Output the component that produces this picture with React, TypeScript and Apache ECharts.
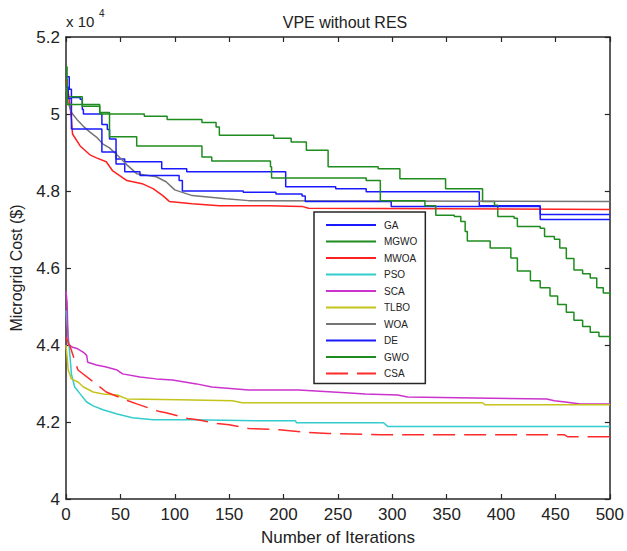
import React, { useEffect, useRef } from "react";
import * as echarts from "echarts";

// Microgrid cost in units of 10^4 $, as [iteration, cost] pairs
const GA: [number, number][] = [
  [0, 5.097], [3, 5.064], [5, 5.043], [13, 5.038], [15, 5.012], [16, 5.0], [33, 4.973], [38, 4.96],
  [40, 4.935], [46, 4.883], [54, 4.876], [88, 4.858], [111, 4.85], [202, 4.811], [248, 4.806],
  [276, 4.798], [380, 4.762], [436, 4.739], [500, 4.739],
];
const MGWO: [number, number][] = [
  [0, 5.123], [1, 5.045], [15, 5.02], [31, 5.004], [40, 5.0], [72, 4.994], [93, 4.986], [125, 4.978],
  [138, 4.966], [141, 4.945], [191, 4.937], [207, 4.927], [221, 4.906], [241, 4.863], [287, 4.858],
  [307, 4.832], [349, 4.806], [383, 4.773], [394, 4.763], [397, 4.734], [412, 4.729], [415, 4.708],
  [436, 4.703], [440, 4.682], [449, 4.675], [454, 4.652], [460, 4.625], [467, 4.595], [475, 4.585],
  [482, 4.574], [488, 4.549], [494, 4.535], [500, 4.528],
];
const MWOA: [number, number][] = [
  [0, 5.09], [3, 5.04], [5, 4.986], [6, 4.948], [13, 4.917], [22, 4.894], [28, 4.886], [37, 4.876],
  [43, 4.852], [56, 4.827], [70, 4.819], [80, 4.806], [89, 4.788], [95, 4.773], [116, 4.767],
  [141, 4.762], [186, 4.762], [217, 4.76], [223, 4.755], [500, 4.752],
];
const PSO: [number, number][] = [
  [0, 4.49], [4, 4.36], [5, 4.324], [8, 4.291], [13, 4.273], [19, 4.252], [25, 4.242], [34, 4.232],
  [47, 4.221], [61, 4.211], [80, 4.206], [116, 4.206], [177, 4.203], [211, 4.203], [212, 4.198],
  [292, 4.198], [296, 4.188], [500, 4.188],
];
const SCA: [number, number][] = [
  [0, 4.54], [1, 4.51], [2, 4.402], [6, 4.394], [10, 4.391], [16, 4.381], [19, 4.373], [20, 4.355],
  [28, 4.348], [37, 4.343], [47, 4.335], [52, 4.325], [68, 4.317], [83, 4.312], [98, 4.309],
  [120, 4.299], [134, 4.291], [168, 4.283], [214, 4.283], [257, 4.276], [275, 4.273], [305, 4.27],
  [314, 4.265], [360, 4.263], [442, 4.26], [449, 4.255], [459, 4.252], [473, 4.247], [500, 4.247],
];
const TLBO: [number, number][] = [
  [0, 4.4], [1, 4.37], [2, 4.335], [5, 4.312], [11, 4.304], [16, 4.291], [25, 4.278], [34, 4.273],
  [47, 4.27], [56, 4.26], [104, 4.258], [153, 4.255], [162, 4.25], [383, 4.25], [385, 4.245],
  [500, 4.245],
];
const WOA: [number, number][] = [
  [0, 5.07], [2, 5.03], [5, 5.004], [10, 4.986], [16, 4.968], [22, 4.953], [28, 4.94], [34, 4.922],
  [40, 4.912], [48, 4.891], [56, 4.868], [65, 4.845], [83, 4.837], [92, 4.824], [100, 4.803],
  [116, 4.788], [147, 4.78], [168, 4.775], [500, 4.773],
];
const DE: [number, number][] = [
  [0, 5.07], [2, 5.04], [5, 4.961], [33, 4.901], [46, 4.87], [54, 4.85], [68, 4.84], [104, 4.827],
  [107, 4.8], [163, 4.797], [193, 4.792], [217, 4.787], [220, 4.773], [299, 4.76], [436, 4.726],
  [500, 4.726],
];
const GWO: [number, number][] = [
  [0, 5.09], [1, 5.025], [31, 5.0], [40, 4.941], [65, 4.917], [125, 4.888], [134, 4.878],
  [188, 4.863], [189, 4.834], [276, 4.827], [289, 4.775], [330, 4.762], [340, 4.737], [357, 4.734],
  [363, 4.721], [367, 4.695], [369, 4.67], [390, 4.652], [409, 4.626], [415, 4.592], [427, 4.567],
  [436, 4.549], [445, 4.527], [452, 4.505], [460, 4.485], [467, 4.464], [475, 4.448], [482, 4.433],
  [490, 4.422], [500, 4.412],
];
const CSA: [number, number][] = [
  [0, 4.42], [4, 4.394], [8, 4.36], [11, 4.335], [29, 4.296], [37, 4.278], [57, 4.255], [65, 4.247],
  [86, 4.227], [92, 4.224], [112, 4.209], [121, 4.206], [139, 4.196], [150, 4.193], [168, 4.183],
  [196, 4.18], [223, 4.173], [241, 4.17], [289, 4.167], [458, 4.167], [461, 4.162], [500, 4.162],
];

const seriesNames = ["GA", "MGWO", "MWOA", "PSO", "SCA", "TLBO", "WOA", "DE", "GWO", "CSA"];
const seriesData = [GA, MGWO, MWOA, PSO, SCA, TLBO, WOA, DE, GWO, CSA];
const xTickStep = 50;
const yTickStep = 0.2;

const colors = ["#1a1aff", "#1e8c1e", "#ff2020", "#33cccc", "#cc33cc", "#c4c41c", "#757575", "#1a1aff", "#1e8c1e", "#ff2a2a"];
const stepped = [true, true, false, false, false, false, false, true, true, false];

const FONT = 'Arial, "Liberation Sans", sans-serif';
const AXIS_COLOR = "#262626";

export default function App() {
  const ref = useRef<HTMLDivElement>(null);
  useEffect(() => {
    if (!ref.current) return;
    const chart = echarts.init(ref.current, undefined, { renderer: "svg" });
    const axisCommon = {
      axisLine: { show: true, onZero: false, lineStyle: { color: AXIS_COLOR, width: 1.5 } },
      axisTick: { show: true, inside: true, length: 5, lineStyle: { color: AXIS_COLOR, width: 1.2 } },
      splitLine: { show: false },
    };
    chart.setOption({
      animation: false,
      backgroundColor: "#ffffff",
      textStyle: { fontFamily: FONT },
      title: {
        text: "VPE without RES",
        left: 340,
        top: 9,
        textAlign: "center",
        textStyle: { fontSize: 16, fontWeight: "normal", color: "#222", fontFamily: FONT },
      },
      grid: { left: 66, top: 37, width: 547, height: 466 },
      legend: {
        orient: "vertical",
        left: 314,
        top: 212,
        padding: [7, 8, 4, 11],
        itemWidth: 50,
        itemHeight: 12,
        itemGap: 4.5,
        backgroundColor: "#ffffff",
        borderColor: AXIS_COLOR,
        borderWidth: 1.5,
        borderRadius: 0,
        itemStyle: { opacity: 0 },
        textStyle: { fontSize: 10, lineHeight: 12, color: "#222", padding: [0, 0, 0, 3], fontFamily: FONT },
        data: seriesNames,
      },
      xAxis: [
        {
          ...axisCommon,
          type: "value",
          position: "bottom",
          min: 0,
          max: 500,
          interval: xTickStep,
          name: "Number of Iterations",
          nameLocation: "middle",
          nameGap: 30,
          nameTextStyle: { fontSize: 17, color: "#222", fontFamily: FONT },
          axisLabel: { fontSize: 17, color: "#222", margin: 7, fontFamily: FONT },
        },
        {
          ...axisCommon,
          type: "value",
          position: "top",
          min: 0,
          max: 500,
          interval: xTickStep,
          axisLabel: { show: false },
        },
      ],
      yAxis: [
        {
          ...axisCommon,
          type: "value",
          position: "left",
          min: 4,
          max: 5.2,
          interval: yTickStep,
          name: "Microgrid Cost ($)",
          nameLocation: "middle",
          nameGap: 42,
          nameTextStyle: { fontSize: 16, color: "#222", fontFamily: FONT },
          axisLabel: {
            fontSize: 17,
            color: "#222",
            margin: 6,
            fontFamily: FONT,
            formatter: (v: number) => String(+v.toFixed(1)),
          },
        },
        {
          ...axisCommon,
          type: "value",
          position: "right",
          min: 4,
          max: 5.2,
          interval: yTickStep,
          axisLabel: { show: false },
        },
      ],
      graphic: [
        {
          type: "text",
          left: 66,
          top: 14,
          style: { text: "x 10", fontSize: 15, fill: "#222", fontFamily: FONT },
        },
        {
          type: "text",
          left: 99,
          top: 8,
          style: { text: "4", fontSize: 10, fill: "#222", fontFamily: FONT },
        },
      ],
      series: seriesNames.map((name, i) => ({
        name,
        type: "line",
        xAxisIndex: 0,
        yAxisIndex: 0,
        data: seriesData[i],
        step: stepped[i] ? "end" : false,
        symbol: "none",
        color: colors[i],
        lineStyle: {
          color: colors[i],
          width: 1.5,
          type: name === "CSA" ? [22, 9] : "solid",
        },
      })),
    });
    return () => chart.dispose();
  }, []);
  return (
    <div
      ref={ref}
      style={{ position: "fixed", left: 0, top: 0, width: 627, height: 551 }}
    />
  );
}
